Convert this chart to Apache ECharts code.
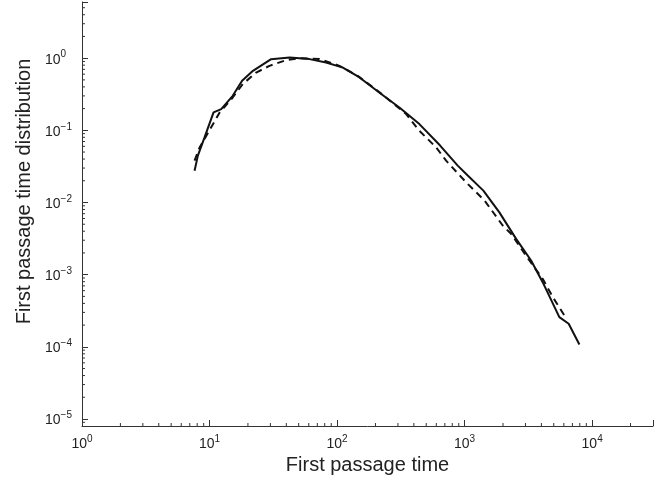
<!DOCTYPE html>
<html>
<head>
<meta charset="utf-8">
<script src="https://cdn.jsdelivr.net/npm/echarts@6/dist/echarts.min.js"></script>
<style>
html,body{margin:0;padding:0;background:#fff;}
#chart{width:671px;height:485px;}
</style>
</head>
<body>
<div id="chart"></div>
<script>
// ---- data ----
const solidT = [7.63, 8.1, 9.14, 10.75, 12.35, 15.2, 18.0, 21.9, 30.4, 42.4, 60.8, 82, 111, 150, 214, 308, 442, 640, 883, 1058, 1403, 1873, 2535, 3321, 4093, 5530, 6546, 7940];
const solidP = [0.0276, 0.0446, 0.0798, 0.177, 0.197, 0.301, 0.485, 0.667, 0.968, 1.02, 0.97, 0.87, 0.74, 0.54, 0.334, 0.207, 0.122, 0.062, 0.0324, 0.0236, 0.0146, 0.0073, 0.00313, 0.00157, 0.000787, 0.000258, 0.000209, 0.000108];
const dashT = [7.63, 8.36, 10.3, 12, 15.2, 18.2, 23.2, 29.5, 39.9, 50.7, 72.8, 104.5, 145, 214, 348, 442, 598, 716, 1028, 1436, 1990, 2313, 3220, 4093, 4911, 6054];
const dashP = [0.038, 0.058, 0.11, 0.177, 0.285, 0.437, 0.632, 0.783, 0.94, 1.0, 0.97, 0.783, 0.569, 0.34, 0.168, 0.0986, 0.058, 0.038, 0.019, 0.0106, 0.0048, 0.00368, 0.00157, 0.000877, 0.000489, 0.000273];

const xMin = 1, xMax = 30000;
const yMin = 8e-6, yMax = 6;
const xTitle = 'First passage time';
const yTitle = 'First passage time distribution';

// minor tick positions (axis decorations)
const minorMult = [2, 3, 4, 5, 6, 7, 8, 9];
const xDecades = [1, 10, 100, 1000, 10000];
const yDecades = [1e-6, 1e-5, 1e-4, 1e-3, 1e-2, 1e-1, 1];
const xMinor = [];
xDecades.forEach(d => minorMult.forEach(m => { const v = d * m; if (v > xMin && v < xMax) xMinor.push(v); }));
const yMinor = [];
yDecades.forEach(d => minorMult.forEach(m => { const v = d * m; if (v > yMin && v < yMax) yMinor.push(v); }));

const FONT = '"Liberation Sans", Arial, Helvetica, sans-serif';
const AX = '#333';

function expLabel(v) {
  const e = Math.log10(v);
  const r = Math.round(e);
  if (Math.abs(e - r) > 1e-6) return '';
  const s = r < 0 ? '\u2212' + (-r) : String(r);
  return '{b|10}{s|' + s + '}';
}

const rich = {
  b: {fontSize: 14, fontFamily: FONT, color: '#222', verticalAlign: 'bottom'},
  s: {fontSize: 10, fontFamily: FONT, color: '#222', padding: [0, 0, 7, 0], verticalAlign: 'bottom'}
};

const chart = echarts.init(document.getElementById('chart'), null, {renderer: 'canvas'});
chart.setOption({
  animation: false,
  backgroundColor: '#fff',
  grid: {left: 82, right: 18, top: 2, bottom: 59, containLabel: false, outerBoundsMode: 'none'},
  xAxis: {
    type: 'log', logBase: 10, min: xMin, max: xMax,
    name: xTitle, nameLocation: 'middle', nameGap: 29,
    nameTextStyle: {fontSize: 20, fontFamily: FONT, color: '#222'},
    axisLine: {show: true, lineStyle: {color: AX, width: 1}},
    axisTick: {show: true, inside: true, length: 6, lineStyle: {color: AX}},
    axisLabel: {margin: 8, formatter: expLabel, rich: rich, showMinLabel: true, showMaxLabel: true},
    splitLine: {show: false}
  },
  yAxis: {
    type: 'log', logBase: 10, min: yMin, max: yMax,
    name: yTitle, nameLocation: 'middle', nameGap: 46,
    nameTextStyle: {fontSize: 20, fontFamily: FONT, color: '#222', padding: [0, 0, 0, 45]},
    axisLine: {show: true, lineStyle: {color: AX, width: 1}},
    axisTick: {show: true, inside: true, length: 6, lineStyle: {color: AX}},
    axisLabel: {margin: 37, align: 'left', formatter: expLabel, rich: rich},
    splitLine: {show: false}
  },
  series: [
    {
      type: 'line', name: 'solid', showSymbol: false, symbol: 'none',
      data: solidT.map((t, i) => [t, solidP[i]]),
      lineStyle: {color: '#111', width: 2, type: 'solid'}, z: 3
    },
    {
      type: 'line', name: 'dashed', showSymbol: false, symbol: 'none',
      data: dashT.map((t, i) => [t, dashP[i]]),
      lineStyle: {color: '#111', width: 2, type: [7, 5]}, z: 3
    },
    {
      type: 'custom', name: 'xminor', silent: true, clip: false,
      data: xMinor.map(v => [v, yMin]),
      renderItem: function (params, api) {
        const p = api.coord([api.value(0), api.value(1)]);
        return {type: 'line', shape: {x1: p[0], y1: p[1], x2: p[0], y2: p[1] - 3}, style: {stroke: AX, lineWidth: 1}};
      }
    },
    {
      type: 'custom', name: 'yminor', silent: true, clip: false,
      data: yMinor.map(v => [xMin, v]),
      renderItem: function (params, api) {
        const p = api.coord([api.value(0), api.value(1)]);
        return {type: 'line', shape: {x1: p[0], y1: p[1], x2: p[0] + 3, y2: p[1]}, style: {stroke: AX, lineWidth: 1}};
      }
    }
  ]
});
</script>
</body>
</html>
